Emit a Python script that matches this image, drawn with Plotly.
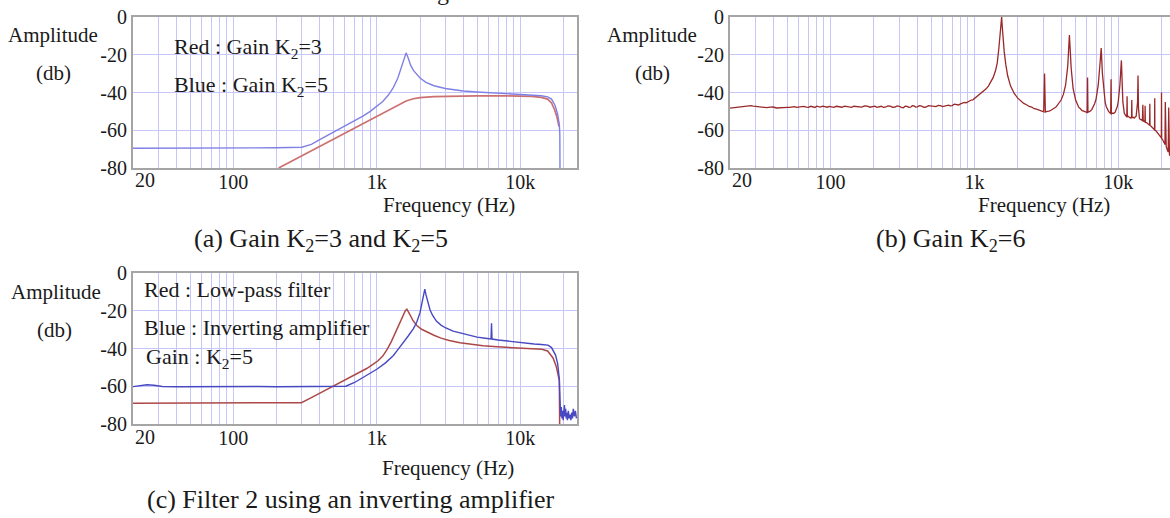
import plotly.graph_objects as go

W, H = 1170, 518

# ---------------- data ----------------
# (a) K2=5 (blue) and K2=3 (red)
a_blue_f = [20, 100, 200, 300, 350, 400, 500, 600, 700, 800, 900, 1000, 1100, 1200, 1300, 1400,
            1480, 1540, 1600, 1650, 1720, 1800, 1900, 2000, 2200, 2500, 3000, 3500, 4000, 5000,
            6000, 7000, 8000, 10000, 12000, 14000, 15500, 16500, 17500, 18200, 18700, 18850, 18900]
a_blue_db = [-69.5, -69.5, -69.3, -69.0, -67.5, -65.0, -61.0, -57.8, -55.0, -52.5, -50.0, -47.5, -44.8,
             -41.5, -37.5, -32.5, -27.0, -22.5, -19.0, -21.5, -25.5, -28.3, -30.5, -32.3, -34.6, -36.4,
             -37.9, -38.7, -39.2, -39.7, -40.0, -40.3, -40.5, -40.8, -41.2, -41.7, -42.3, -43.5, -47.0,
             -51.5, -57.0, -62.0, -80.0]
a_red_f = [207, 300, 400, 500, 600, 700, 800, 900, 1000, 1200, 1400, 1600, 1800, 2000, 2500, 3000,
           5000, 8000, 10000, 12000, 14000, 15500, 16500, 17300, 18000, 18600]
a_red_db = [-80.0, -73.5, -68.5, -64.6, -61.4, -58.8, -56.5, -54.4, -52.5, -49.3, -46.4, -44.5, -43.3,
            -42.7, -42.2, -42.0, -41.8, -41.8, -41.9, -42.1, -42.6, -43.5, -45.5, -49.0, -53.0, -58.0]

# (b) K2=6
b_freq = [20, 21, 22, 23, 24, 25, 26, 27, 28, 29, 30, 32, 33, 35, 36, 38, 40, 42, 44, 46, 48, 50,
          52, 54, 56, 58, 60, 63, 65, 68, 70, 73, 75, 78, 80, 83, 85, 88, 90, 93, 95, 98, 100,
          105, 110, 115, 120, 125, 130, 135, 140, 145, 150, 158, 165, 172, 180, 188, 195, 203,
          210, 218, 225, 233, 240, 250, 260, 270, 280, 290, 300, 310, 320, 330, 340, 350, 360,
          370, 380, 390, 400, 415, 430, 445, 460, 480, 500, 520, 540, 560, 580, 600, 620, 640,
          660, 680, 700, 725, 750, 775, 800, 825, 850, 875, 900, 925, 950, 975, 1000, 1050, 1100,
          1150, 1200, 1250, 1300, 1350, 1400, 1440, 1480, 1510, 1530, 1545, 1560, 1580, 1610, 1650,
          1700, 1780, 1890, 2000, 2100, 2200, 2300, 2400, 2500, 2600, 2700, 2800, 2880, 2950, 3030,
          3070, 3110, 3200, 3300, 3400, 3500, 3600, 3700, 3800, 3900, 4000, 4150, 4300, 4450, 4570,
          4700, 4850, 5050, 5200, 5300, 5450, 5600, 5750, 5900, 6070, 6110, 6150, 6280, 6400, 6550,
          6700, 6850, 7000, 7250, 7450, 7600, 7750, 7950, 8100, 8250, 8400, 8550, 8700, 8850, 8900,
          8950, 9100, 9300, 9500, 9700, 9850, 10000, 10250, 10500, 10600, 10750, 11000, 11150, 11300,
          11450, 11500, 11550, 11700, 11900, 12100, 12350, 12400, 12450, 12700, 12900, 13100, 13300,
          13600, 13700, 13800, 14000, 14200, 14450, 14700, 14800, 14900, 15100, 15300, 15350, 15400,
          15700, 16000, 16250, 16500, 16550, 16600, 16900, 17200, 17500, 17850, 17900, 17950, 18200,
          18500, 18850, 19200, 19550, 19900, 19950, 20000, 20250, 20500, 20800, 21100, 21200, 21300,
          21500, 21700, 21950, 22200, 22400, 22500, 22650, 22800]
b_db = [-48.3, -48.1, -48.0, -47.7, -47.8, -47.5, -47.4, -47.1, -47.0, -47.2, -47.3, -47.6, -47.8,
        -47.6, -48.0, -47.8, -47.7, -48.2, -48.1, -47.7, -47.6, -47.9, -47.9, -47.5, -47.5, -47.9,
        -47.8, -47.4, -47.4, -47.8, -47.9, -47.3, -47.5, -47.9, -47.2, -47.6, -47.7, -47.2, -47.4,
        -47.9, -47.8, -47.4, -47.6, -47.9, -47.3, -47.7, -47.8, -47.2, -47.5, -47.9, -47.9, -47.3,
        -47.4, -47.8, -47.7, -47.1, -47.2, -47.8, -47.6, -47.2, -47.9, -47.4, -47.3, -47.9, -47.8,
        -47.1, -47.2, -47.8, -47.7, -47.1, -47.3, -47.9, -48.1, -47.3, -47.4, -47.9, -47.8, -47.0,
        -47.1, -47.7, -47.6, -47.0, -47.2, -47.8, -47.7, -47.0, -47.3, -47.6, -47.5, -46.9, -47.0,
        -47.5, -47.2, -46.6, -46.7, -47.1, -46.9, -46.2, -46.3, -46.6, -46.0, -45.6, -45.3, -45.5,
        -44.9, -44.3, -44.0, -43.9, -43.2, -42.3, -41.0, -39.8, -38.2, -36.6, -34.5, -32.0, -28.5,
        -24.5, -16.0, -9.0, -3.5, 0.0, -5.0, -12.0, -18.5, -25.0, -31.0, -36.5, -40.5, -43.0, -44.6,
        -45.8, -46.5, -47.4, -47.7, -48.6, -48.8, -49.3, -49.9, -49.8, -50.2, -30.0, -50.4, -50.0,
        -49.9, -49.4, -49.0, -48.2, -47.6, -46.5, -45.6, -44.0, -41.0, -36.0, -26.0, -9.5, -27.0,
        -38.0, -44.0, -46.3, -47.8, -48.6, -49.6, -49.9, -50.4, -50.6, -32.0, -50.5, -50.1, -49.8,
        -48.9, -47.5, -45.8, -43.5, -36.0, -25.0, -16.5, -30.0, -41.0, -45.2, -47.5, -49.2, -50.0,
        -50.6, -51.2, -33.0, -51.3, -51.0, -51.0, -50.4, -49.0, -47.3, -44.5, -36.0, -23.0, -33.0,
        -45.0, -51.0, -52.0, -52.8, -53.0, -42.0, -53.0, -52.6, -53.3, -53.5, -53.2, -44.0, -53.4,
        -53.1, -53.6, -53.0, -52.5, -45.0, -31.0, -48.0, -53.5, -54.3, -54.4, -55.0, -46.5, -55.2,
        -55.0, -55.6, -47.0, -55.8, -55.9, -56.5, -56.6, -57.3, -46.0, -57.5, -57.9, -58.5, -59.2,
        -59.8, -43.0, -60.0, -60.2, -61.0, -61.9, -62.5, -63.0, -64.0, -40.0, -64.5, -64.8, -65.5,
        -66.8, -67.5, -45.0, -68.0, -68.6, -69.5, -70.2, -71.5, -48.0, -72.5, -72.8, -73.5]
assert len(b_freq) == len(b_db)

# (c) Low-pass filter (red) and inverting amplifier (blue), K2=5
c_red_f = [20, 100, 200, 298, 350, 400, 479, 560, 650, 750, 850, 950, 1020, 1100, 1180, 1260, 1330,
           1390, 1460, 1520, 1580, 1620, 1660, 1700, 1780, 1900, 2050, 2250, 2500, 2800, 3200, 3800,
           4500, 5500, 6500, 8300, 10000, 12000, 14100, 15500, 16900, 17800, 18400, 18700, 18800]
c_red_db = [-69.0, -69.0, -68.9, -68.7, -66.0, -63.7, -60.4, -57.8, -55.3, -52.8, -50.6, -48.2, -46.5,
            -44.0, -40.5, -36.5, -32.5, -28.6, -25.0, -22.2, -20.0, -19.2, -20.3, -22.0, -25.0, -27.8,
            -29.8, -31.4, -33.0, -34.5, -35.8, -37.0, -37.9, -38.6, -39.0, -39.4, -39.7, -40.0, -40.4,
            -41.3, -45.0, -49.5, -54.0, -57.0, -80.0]
assert len(c_red_f) == len(c_red_db)
c_blue_f = [20, 22, 25, 28, 32, 40, 60, 100, 150, 200, 300, 400, 500, 608, 700, 800, 900, 1000, 1150,
            1300, 1390, 1500, 1650, 1800, 1900, 2000, 2080, 2130, 2160, 2200, 2270, 2350, 2450, 2600,
            2800, 3000, 3400, 3800, 4400, 5000, 5700, 6250, 6300, 6350, 7000, 8300, 10000, 11000,
            12500, 14000, 15600, 16500, 17600, 18200, 18500, 18700, 18800, 18900, 19100, 19300, 19500,
            19700, 19900, 20100, 20300, 20500, 20700, 20900, 21100, 21300, 21600, 21900, 22200, 22500,
            22800, 23100, 23400, 23800, 24200, 24600]
c_blue_db = [-60.2, -59.6, -59.2, -59.5, -60.1, -60.3, -60.2, -60.3, -60.1, -60.3, -60.2, -60.1, -60.2,
             -60.0, -58.0, -55.5, -53.2, -51.0, -47.6, -43.8, -41.0, -37.8, -33.5, -29.5, -26.0, -21.0,
             -15.0, -11.0, -8.5, -11.5, -16.0, -19.6, -22.5, -25.5, -27.6, -29.0, -30.8, -31.8, -33.0,
             -34.0, -34.6, -35.0, -26.6, -35.0, -35.5, -36.2, -36.8, -37.2, -37.6, -37.9, -38.2, -39.5,
             -43.5, -48.0, -51.5, -56.0, -62.0, -72.0, -76.0, -71.0, -77.0, -73.0, -78.0, -74.0, -70.0,
             -76.0, -72.0, -77.0, -74.0, -78.0, -73.0, -77.0, -75.0, -78.0, -74.0, -77.0, -72.0, -76.0,
             -73.0, -77.0]
assert len(c_blue_f) == len(c_blue_db)

y_ticks = [0, -20, -40, -60, -80]
y_tick_text = ["0", "-20", "-40", "-60", "-80"]
x_major = [100, 1000, 10000]
x_major_text = ["100", "1k", "10k"]
x_minor = [30, 40, 50, 60, 70, 80, 90, 200, 300, 400, 500, 600, 700, 800, 900,
           2000, 3000, 4000, 5000, 6000, 7000, 8000, 9000, 20000]

# ---------------- style ----------------
FONT = "Liberation Serif"
GRID = "rgb(198,198,248)"
FRAME = "rgb(165,165,165)"
TXT = "#1a1a1a"
TICK_SIZE = 20


def px(x):
    return x / W


def py(y):
    return 1 - y / H


def xaxis(domain, rng, anchor):
    return dict(type="log", domain=domain, range=rng, anchor=anchor,
                showgrid=True, gridcolor=GRID, gridwidth=1,
                showline=True, linecolor=FRAME, linewidth=2, mirror=True,
                ticks="", tickvals=x_major, ticktext=x_major_text,
                tickfont=dict(family=FONT, size=TICK_SIZE, color=TXT),
                ticklabelstandoff=-5,
                minor=dict(tickvals=x_minor, showgrid=True, gridcolor=GRID, gridwidth=1, ticks=""),
                zeroline=False, automargin=False, fixedrange=True)


def yaxis(domain, anchor):
    return dict(domain=domain, range=[-80, 0], anchor=anchor,
                showgrid=True, gridcolor=GRID, gridwidth=1,
                showline=True, linecolor=FRAME, linewidth=2, mirror=True,
                ticks="", tickvals=y_ticks, ticktext=y_tick_text,
                tickfont=dict(family=FONT, size=TICK_SIZE, color=TXT),
                zeroline=False, automargin=False, fixedrange=True)


fig = go.Figure()

RED_A = "rgb(205,112,112)"
BLUE_A = "rgb(128,128,228)"
RED_B = "rgb(155,40,40)"
RED_C = "rgb(172,72,72)"
BLUE_C = "rgb(72,72,195)"

fig.add_trace(go.Scatter(x=a_red_f, y=a_red_db, mode="lines", line=dict(color=RED_A, width=1.7),
                         xaxis="x", yaxis="y", showlegend=False))
fig.add_trace(go.Scatter(x=a_blue_f, y=a_blue_db, mode="lines", line=dict(color=BLUE_A, width=1.4),
                         xaxis="x", yaxis="y", showlegend=False))
fig.add_trace(go.Scatter(x=b_freq, y=b_db, mode="lines", line=dict(color=RED_B, width=1.3),
                         xaxis="x2", yaxis="y2", showlegend=False))
fig.add_trace(go.Scatter(x=c_red_f, y=c_red_db, mode="lines", line=dict(color=RED_C, width=1.5),
                         xaxis="x3", yaxis="y3", showlegend=False))
fig.add_trace(go.Scatter(x=c_blue_f, y=c_blue_db, mode="lines", line=dict(color=BLUE_C, width=1.4),
                         xaxis="x3", yaxis="y3", showlegend=False))

dom_ac_x = [px(133), px(577)]
rng_ac = [1.30103, 4.395]
dom_b_x = [px(730), 1.0]
rng_b = [1.30103, 4.359]
dom_top_y = [py(168), py(17)]
dom_bot_y = [py(424), py(273)]

ann = []


def text(t, x, y, size=21, xanchor="center"):
    ann.append(dict(text=t, x=px(x), y=py(y), xref="paper", yref="paper", showarrow=False,
                    xanchor=xanchor, yanchor="middle",
                    font=dict(family=FONT, size=size, color=TXT)))


K2 = "K<sub>2</sub>"
LEG = 22
FREQ = 21
CAP = 26
# (a)
text("Amplitude", 53, 35)
text("(db)", 53, 73)
text("Red : Gain " + K2 + "=3", 172, 48, size=LEG, xanchor="left")
text("Blue : Gain " + K2 + "=5", 172, 86, size=LEG, xanchor="left")
text("20", 133, 180, size=TICK_SIZE, xanchor="left")
text("Frequency (Hz)", 449, 205, size=FREQ)
text("(a) Gain " + K2 + "=3 and " + K2 + "=5", 321, 240, size=CAP)
# (b)
text("Amplitude", 652, 35)
text("(db)", 652, 73)
text("20", 730, 180, size=TICK_SIZE, xanchor="left")
text("Frequency (Hz)", 1044, 205, size=FREQ)
text("(b) Gain " + K2 + "=6", 950, 240, size=CAP)
# (c)
text("Amplitude", 56, 292)
text("(db)", 54, 330)
text("Red : Low-pass filter", 142, 289, size=LEG, xanchor="left")
text("Blue : Inverting amplifier", 142, 327, size=LEG, xanchor="left")
text("Gain : " + K2 + "=5", 144, 358, size=LEG, xanchor="left")
text("20", 133, 437, size=TICK_SIZE, xanchor="left")
text("Frequency (Hz)", 448, 468, size=FREQ)
text("(c) Filter 2 using an inverting amplifier", 351, 499, size=CAP)

# cropped title fragment at the very top
ann.append(dict(text="g", x=px(443), y=py(7), xref="paper", yref="paper", showarrow=False,
                xanchor="center", yanchor="bottom", font=dict(family=FONT, size=24, color=TXT)))

fig.update_layout(
    width=W, height=H,
    margin=dict(l=0, r=0, t=0, b=0),
    paper_bgcolor="white", plot_bgcolor="white",
    xaxis=xaxis(dom_ac_x, rng_ac, "y"),
    yaxis=yaxis(dom_top_y, "x"),
    xaxis2=xaxis(dom_b_x, rng_b, "y2"),
    yaxis2=yaxis(dom_top_y, "x2"),
    xaxis3=xaxis(dom_ac_x, rng_ac, "y3"),
    yaxis3=yaxis(dom_bot_y, "x3"),
    annotations=ann,
)

fig.write_html("out.html", config={"displayModeBar": False},
               post_script="document.body.style.margin='0px';document.body.style.overflow='hidden';")
